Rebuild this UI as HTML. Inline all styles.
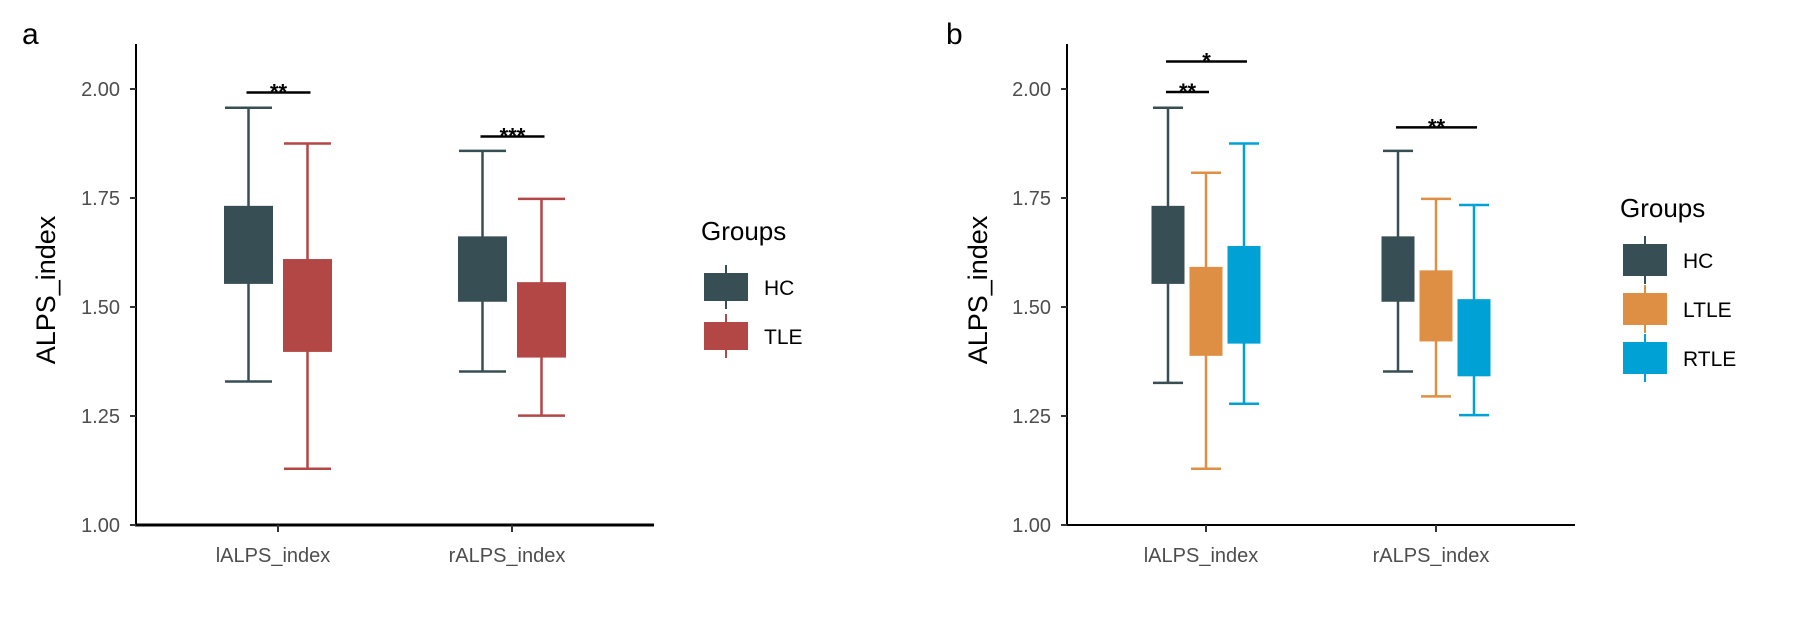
<!DOCTYPE html>
<html><head><meta charset="utf-8"><style>
body{margin:0;background:#fff;}
svg{display:block;font-family:"Liberation Sans",Arial,sans-serif;}
</style></head><body>
<svg id="chart" width="1804" height="621" viewBox="0 0 1804 621"></svg>
<script>
const categories = ["lALPS_index","rALPS_index"];
const groupsA = ["HC","TLE"];
const groupsB = ["HC","LTLE","RTLE"];
// [whiskerLow, Q1, Q3, whiskerHigh] per category
const aHC  = [[1.329,1.553,1.732,1.957],[1.352,1.512,1.662,1.858]];
const aTLE = [[1.129,1.397,1.610,1.875],[1.251,1.384,1.557,1.748]];
const bHC  = [[1.326,1.553,1.732,1.957],[1.352,1.512,1.662,1.858]];
const bLTLE= [[1.129,1.388,1.592,1.808],[1.295,1.421,1.584,1.748]];
const bRTLE= [[1.278,1.416,1.640,1.875],[1.252,1.341,1.518,1.734]];
const yTicks = [1.00,1.25,1.50,1.75,2.00];
const yTickLabels = ["1.00","1.25","1.50","1.75","2.00"];
const sigA = [{cat:0,from:0,to:1,y:1.992,label:"**"},{cat:1,from:0,to:1,y:1.891,label:"***"}];
const sigB = [{cat:0,from:0,to:1,y:1.993,label:"**"},{cat:0,from:0,to:2,y:2.063,label:"*"},{cat:1,from:0,to:2,y:1.912,label:"**"}];
const colors = {HC:"#384e55",TLE:"#b34745",LTLE:"#de8f43",RTLE:"#00a1d5"};

const NS="http://www.w3.org/2000/svg";
const svg=document.getElementById('chart');
function mk(tag,attrs,parent){const e=document.createElementNS(NS,tag);for(const k in attrs)e.setAttribute(k,attrs[k]);(parent||svg).appendChild(e);return e;}

function panel(opt){
  const g=mk('g',{});
  
  
  const y=v=>525-(v-1)*436;
  const x=(ci,gi)=>opt.cx[ci]+(gi-(opt.groups.length-1)/2)*opt.offset;
  const ya=mk('line',{x1:opt.ax,y1:44,x2:opt.ax,y2:526,stroke:'#000','stroke-width':2},g);
  
  
  const xa=mk('line',{x1:opt.ax-1,y1:525,x2:opt.axEnd,y2:525,stroke:'#000','stroke-width':opt.xw},g);
  
  
  yTicks.forEach((v,i)=>{
    mk('line',{x1:opt.ax-6,x2:opt.ax,y1:y(v),y2:y(v),stroke:'#333','stroke-width':2},g);
    const t=mk('text',{x:opt.ax-16,y:y(v)+7,'text-anchor':'end','font-size':20,fill:'#4d4d4d'},g);
    t.textContent=yTickLabels[i];
    
    
  });
  categories.forEach((c,ci)=>{
    mk('line',{x1:opt.cx[ci],x2:opt.cx[ci],y1:525,y2:532,stroke:'#333','stroke-width':2},g);
    const t=mk('text',{x:opt.cx[ci]-5,y:562,'text-anchor':'middle','font-size':20,fill:'#4d4d4d'},g);
    t.textContent=c;
    
    
  });
  const yt=mk('text',{x:0,y:0,'text-anchor':'middle','font-size':27,fill:'#000',transform:`translate(${opt.titleX},290) rotate(-90)`},g);
  yt.textContent='ALPS_index';
  
  
  const pl=mk('text',{x:opt.letterX,y:44,'font-size':30,fill:'#000'},g);
  pl.textContent=opt.letter;
  
  
  opt.groups.forEach((gn,gi)=>{
    opt.data[gi].forEach((d,ci)=>{
      const cx=x(ci,gi), col=colors[gn], bw=opt.bw;
      const bg=mk('g',{},g);
      
      
      mk('line',{x1:cx,x2:cx,y1:y(d[3]),y2:y(d[0]),stroke:col,'stroke-width':2.5},bg);
      mk('line',{x1:cx-opt.cap/2,x2:cx+opt.cap/2,y1:y(d[3]),y2:y(d[3]),stroke:col,'stroke-width':2.5},bg);
      mk('line',{x1:cx-opt.cap/2,x2:cx+opt.cap/2,y1:y(d[0]),y2:y(d[0]),stroke:col,'stroke-width':2.5},bg);
      mk('rect',{x:cx-bw/2,y:y(d[2]),width:bw,height:y(d[1])-y(d[2]),fill:col},bg);
    });
  });
  opt.sig.forEach(s=>{
    const x1=x(s.cat,s.from)-2,x2=x(s.cat,s.to)+opt.sigExt;
    const sg=mk('g',{},g);
    
    
    mk('line',{x1:x1,x2:x2,y1:y(s.y),y2:y(s.y),stroke:'#000','stroke-width':2.5},sg);
    const t=mk('text',{x:(x1+x2)/2,y:y(s.y)+7,'text-anchor':'middle','font-size':22,'font-weight':'bold',fill:'#000'},sg);
    t.textContent=s.label;
  });
  const lg=mk('g',{},g);
  
  
  const tt=mk('text',{x:opt.legX-3,y:opt.legTitleY,'font-size':26,fill:'#000'},lg);
  tt.textContent='Groups';
  opt.groups.forEach((gn,i)=>{
    const cy=opt.legY0+i*opt.legStep;
    const e=mk('g',{},lg);
    
    
    mk('line',{x1:opt.legX+opt.keyW/2,x2:opt.legX+opt.keyW/2,y1:cy-opt.keyH/2-8,y2:cy+opt.keyH/2+8,stroke:colors[gn],'stroke-width':2},e);
    mk('rect',{x:opt.legX,y:cy-opt.keyH/2,width:opt.keyW,height:opt.keyH,fill:colors[gn]},e);
    const t=mk('text',{x:opt.legX+opt.keyW+16,y:cy+8,'font-size':21,fill:'#000'},e);
    t.textContent=gn;
  });
}
panel({name:'panel-a',letter:'a',letterX:22,ax:136,axEnd:654,xw:3,cx:[278,512],offset:59,bw:49,cap:47,
  groups:groupsA,data:[aHC,aTLE],sig:sigA,sigExt:3,titleX:55,
  legX:704,legTitleY:240,legY0:287,legStep:49,keyW:44,keyH:28});
panel({name:'panel-b',letter:'b',letterX:946,ax:1067,axEnd:1575,xw:2,cx:[1206,1436],offset:38,bw:33,cap:30,
  groups:groupsB,data:[bHC,bLTLE,bRTLE],sig:sigB,sigExt:3,titleX:987,
  legX:1623,legTitleY:217,legY0:260,legStep:49,keyW:44,keyH:32});
</script>
</body></html>
